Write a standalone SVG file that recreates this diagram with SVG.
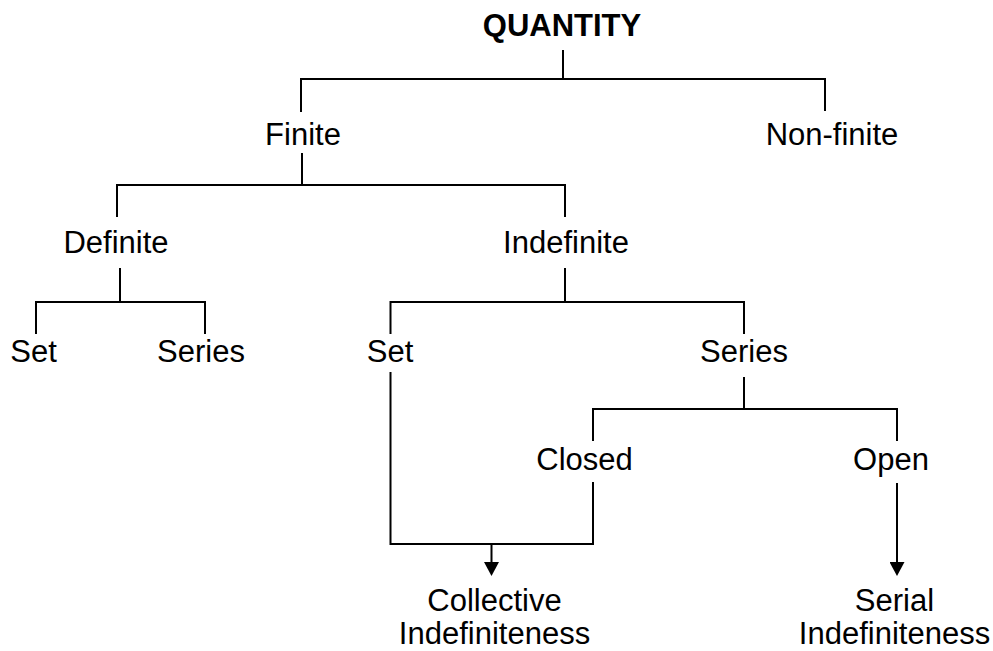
<svg xmlns="http://www.w3.org/2000/svg" width="993" height="651" viewBox="0 0 993 651">
<style>
  .t { font-family: "Liberation Sans", Arial, sans-serif; font-size: 31px; fill: #000; text-anchor: middle; }
  .b { font-weight: bold; }
  .c { fill: none; stroke: #000; stroke-width: 2; }
</style>
<defs>
  <marker id="ah" markerUnits="userSpaceOnUse" markerWidth="15" markerHeight="15" refX="3" refY="7.5" orient="auto">
    <path d="M0,0 L14,7.5 L0,15 z" fill="#000"/>
  </marker>
</defs>
<rect width="993" height="651" fill="#fff"/>
<g id="connectors">
  <path class="c" d="M563,50 V79 M301,112 V79 H825 V111"/>
  <path class="c" d="M302,153 V185 M117,217 V185 H565 V217"/>
  <path class="c" d="M120,268 V302 M36,334 V302 H205 V334"/>
  <path class="c" d="M565,268 V302 M390.5,334 V302 H744 V334"/>
  <path class="c" d="M744,377 V409 M593,441 V409 H897 V441"/>
  <path class="c" d="M390.5,372 V544 H593 V482"/>
  <path class="c" d="M491.5,544 V565" marker-end="url(#ah)"/>
  <path class="c" d="M897,483 V565" marker-end="url(#ah)"/>
</g>
<g id="quantity"><text class="t b" x="562" y="36">QUANTITY</text></g>
<g id="finite"><text class="t" x="303" y="145">Finite</text></g>
<g id="nonfinite"><text class="t" x="832" y="145">Non-finite</text></g>
<g id="definite"><text class="t" x="116" y="253">Definite</text></g>
<g id="indefinite"><text class="t" x="566" y="253">Indefinite</text></g>
<g id="def-set"><text class="t" x="33.5" y="362">Set</text></g>
<g id="def-series"><text class="t" x="201" y="362">Series</text></g>
<g id="indef-set"><text class="t" x="390" y="362">Set</text></g>
<g id="indef-series"><text class="t" x="744" y="362">Series</text></g>
<g id="closed"><text class="t" x="584.5" y="470">Closed</text></g>
<g id="open"><text class="t" x="891" y="470">Open</text></g>
<g id="collective"><text class="t" x="494.5" y="611">Collective</text><text class="t" x="494.5" y="644">Indefiniteness</text></g>
<g id="serial"><text class="t" x="894.5" y="611">Serial</text><text class="t" x="894.5" y="644">Indefiniteness</text></g>
</svg>
